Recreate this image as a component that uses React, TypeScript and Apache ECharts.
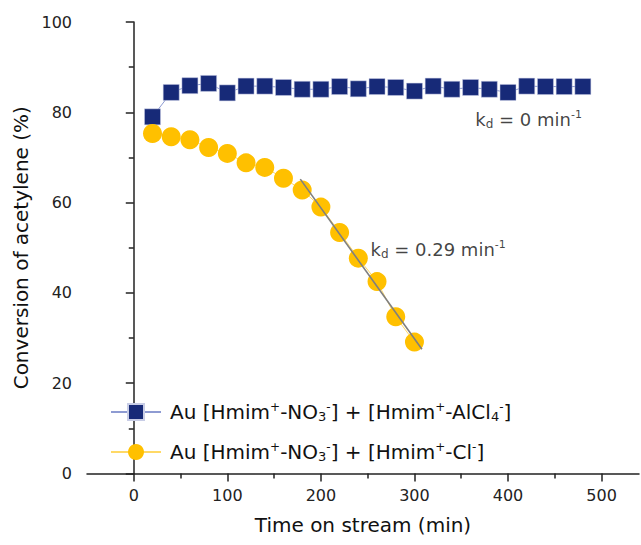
import React, { useEffect, useRef } from "react";
import * as echarts from "echarts";

const timeBlue = [20, 40, 60, 80, 100, 120, 140, 160, 180, 200, 220, 240, 260, 280, 300, 320, 340, 360, 380, 400, 420, 440, 460, 480];
const convBlue = [79.0, 84.4, 85.9, 86.4, 84.3, 85.8, 85.8, 85.5, 85.1, 85.1, 85.7, 85.2, 85.7, 85.5, 84.7, 85.8, 85.1, 85.5, 85.1, 84.4, 85.8, 85.7, 85.7, 85.7];

const timeYellow = [20, 40, 60, 80, 100, 120, 140, 160, 180, 200, 220, 240, 260, 280, 300];
const convYellow = [75.3, 74.6, 73.9, 72.2, 70.9, 68.8, 67.8, 65.4, 62.8, 59.0, 53.4, 47.7, 42.5, 34.7, 29.1];

const fitX = [178, 308];
const fitY = [65.2, 27.5];

const xMajorTicks = [0, 100, 200, 300, 400, 500];
const xMinorTicks = [50, 150, 250, 350, 450];

const nameBlue = "Au [Hmim+-NO3-] + [Hmim+-AlCl4-]";
const nameYellow = "Au [Hmim+-NO3-] + [Hmim+-Cl-]";

const annotations = [
  { x: 365, y: 78.5, text: "{n|k}{sub|d}{n| = 0 min}{sup|-1}" },
  { x: 253, y: 49.7, text: "{n|k}{sub|d}{n| = 0.29 min}{sup|-1}" },
];

const FONT = "'DejaVu Sans', sans-serif";

export default function App() {
  const ref = useRef<HTMLDivElement>(null);
  useEffect(() => {
    document.body.style.margin = "0";
    if (!ref.current) return;
    const chart = echarts.init(ref.current, null, { renderer: "svg" });
    const axisColor = "#222";
    const legendRich = {
      n: { fontSize: 20, fontFamily: FONT, color: "#111" },
      sup: { fontSize: 12, fontFamily: FONT, color: "#111", padding: [0, 0, 10, 0] },
      sub: { fontSize: 13, fontFamily: FONT, color: "#111", padding: [9, 0, 0, 0] },
    };
    const annRich = {
      n: { fontSize: 18, fontFamily: FONT, color: "#111" },
      sup: { fontSize: 11, fontFamily: FONT, color: "#111", padding: [0, 0, 10, 0] },
      sub: { fontSize: 12, fontFamily: FONT, color: "#111", padding: [9, 0, 0, 0] },
    };
    const legendLabel: Record<string, string> = {
      [nameBlue]: "{n|Au [Hmim}{sup|+}{n|-NO}{sub|3}{sup|-}{n|] + [Hmim}{sup|+}{n|-AlCl}{sub|4}{sup|-}{n|]}",
      [nameYellow]: "{n|Au [Hmim}{sup|+}{n|-NO}{sub|3}{sup|-}{n|] + [Hmim}{sup|+}{n|-Cl}{sup|-}{n|]}",
    };
    chart.setOption({
      animation: false,
      backgroundColor: "#fff",
      textStyle: { fontFamily: FONT },
      grid: { left: 87, right: 2, top: 22, bottom: 71.5, containLabel: false },
      legend: {
        data: [nameBlue, nameYellow],
        orient: "vertical",
        left: 105,
        top: 396,
        itemWidth: 50,
        itemHeight: 20,
        itemGap: 18,
        formatter: (name: string) => legendLabel[name] || name,
        textStyle: { rich: legendRich, fontSize: 20, fontFamily: FONT, padding: [0, 0, 0, 4] },
      },
      xAxis: [
        {
          type: "value",
          min: -50,
          max: 540,
          interval: 50,
          position: "bottom",
          name: "Time on stream (min)",
          nameLocation: "middle",
          nameGap: 41,
          nameTextStyle: { fontSize: 20, color: "#111", fontFamily: FONT },
          axisLine: { show: true, lineStyle: { color: axisColor, width: 1.5 } },
          axisTick: { show: true, customValues: xMajorTicks, length: 8, inside: false, lineStyle: { color: axisColor, width: 1.5 } },
          axisLabel: { customValues: xMajorTicks, fontSize: 16, color: "#222", margin: 14, fontFamily: FONT },
          splitLine: { show: false },
        },
        {
          type: "value",
          min: -50,
          max: 540,
          interval: 50,
          position: "bottom",
          gridIndex: 0,
          axisLine: { show: false },
          axisTick: { show: true, customValues: xMinorTicks, length: 5, inside: false, lineStyle: { color: axisColor, width: 1.5 } },
          axisLabel: { show: false },
          splitLine: { show: false },
        },
      ],
      yAxis: {
        type: "value",
        min: 0,
        max: 100,
        interval: 20,
        name: "Conversion of acetylene (%)",
        nameLocation: "middle",
        nameGap: 52,
        nameTextStyle: { fontSize: 20, color: "#111", fontFamily: FONT },
        axisLine: { show: true, lineStyle: { color: axisColor, width: 1.5 } },
        axisTick: { show: true, length: 8, inside: false, lineStyle: { color: axisColor, width: 1.5 } },
        minorTick: { show: true, splitNumber: 2, length: 5, lineStyle: { color: axisColor, width: 1.5 } },
        axisLabel: { fontSize: 16, color: "#222", margin: 15, fontFamily: FONT },
        splitLine: { show: false },
        minorSplitLine: { show: false },
      },
      series: [
        {
          name: nameBlue,
          type: "line",
          xAxisIndex: 0,
          data: timeBlue.map((t, i) => [t, convBlue[i]]),
          symbol: "rect",
          symbolSize: 16,
          itemStyle: { color: "#172a78", borderColor: "#c8cde6", borderWidth: 0.5 },
          lineStyle: { color: "#8e9bd2", width: 1 },
          z: 2,
        },
        {
          name: nameYellow,
          type: "line",
          xAxisIndex: 0,
          data: timeYellow.map((t, i) => [t, convYellow[i]]),
          symbol: "circle",
          symbolSize: 19,
          itemStyle: { color: "#ffc000" },
          lineStyle: { color: "#ffd966", width: 1 },
          z: 3,
        },
        {
          name: "fit",
          type: "line",
          xAxisIndex: 0,
          data: fitX.map((t, i) => [t, fitY[i]]),
          symbol: "none",
          lineStyle: { color: "#7f7f7f", width: 1.6 },
          z: 4,
          silent: true,
        },
        {
          name: "annotations",
          type: "scatter",
          xAxisIndex: 0,
          data: annotations.map((a) => [a.x, a.y]),
          symbolSize: 0,
          z: 5,
          label: {
            show: true,
            position: "right",
            distance: 0,
            formatter: (p: any) => annotations[p.dataIndex].text,
            rich: annRich,
          },
        },
      ],
    });
    return () => chart.dispose();
  }, []);
  return <div ref={ref} style={{ width: 641, height: 545 }} />;
}
